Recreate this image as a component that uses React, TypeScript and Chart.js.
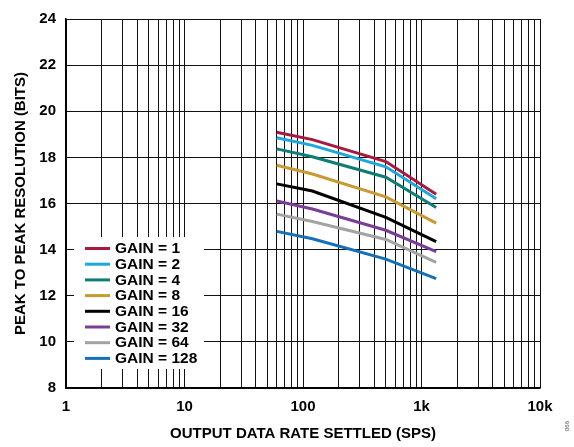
import React, { useEffect, useRef } from 'react';
import { Chart, registerables } from 'chart.js';

Chart.register(...registerables);

// Output data rate (SPS)
const rates = [60, 120, 500, 1330];

const gainLabels = ['GAIN = 1', 'GAIN = 2', 'GAIN = 4', 'GAIN = 8', 'GAIN = 16', 'GAIN = 32', 'GAIN = 64', 'GAIN = 128'];

const gain1 = [19.09, 18.77, 17.82, 16.40];
const gain2 = [18.85, 18.52, 17.59, 16.21];
const gain4 = [18.37, 18.03, 17.14, 15.83];
const gain8 = [17.66, 17.28, 16.29, 15.15];
const gain16 = [16.85, 16.54, 15.40, 14.35];
const gain32 = [16.11, 15.76, 14.84, 13.91];
const gain64 = [15.54, 15.22, 14.44, 13.45];
const gain128 = [14.79, 14.47, 13.59, 12.74];

const seriesValues = [gain1, gain2, gain4, gain8, gain16, gain32, gain64, gain128];
const seriesColors = ['#A8183F', '#1BA8DE', '#0F7D74', '#C89A2F', '#000000', '#7A3E97', '#A3A3A3', '#1470B8'];

const xDecades = [1, 10, 100, 1000];
const xMultiples = [1, 2, 3, 4, 5, 6, 7, 8, 9];
const xMax = 10000;
const xTickLabels: Record<string, string> = { '1': '1', '10': '10', '100': '100', '1000': '1k', '10000': '10k' };

const yMin = 8;
const yMax = 24;
const yStep = 2;

const FONT = '"Liberation Sans", Arial, sans-serif';

const legendPlugin = {
  id: 'boxLegend',
  beforeDatasetsDraw(chart: any) {
    const ctx = chart.ctx;
    ctx.save();
    ctx.fillStyle = '#ffffff';
    ctx.fillRect(74, 237, 130, 132);
    const ds = chart.data.datasets;
    ctx.font = `bold 15.5px ${FONT}`;
    ctx.textBaseline = 'middle';
    ctx.textAlign = 'left';
    for (let i = 0; i < ds.length; i++) {
      const y = 248.5 + i * 15.7;
      ctx.strokeStyle = ds[i].borderColor;
      ctx.lineWidth = 3;
      ctx.beginPath();
      ctx.moveTo(85, y);
      ctx.lineTo(110, y);
      ctx.stroke();
      ctx.fillStyle = '#000';
      ctx.fillText(ds[i].label, 115, y + 0.5);
    }
    ctx.restore();
  },
  afterDraw(chart: any) {
    const ctx = chart.ctx;
    ctx.save();
    ctx.translate(567, 426);
    ctx.rotate(-Math.PI / 2);
    ctx.font = `6px ${FONT}`;
    ctx.fillStyle = '#444';
    ctx.textAlign = 'center';
    ctx.textBaseline = 'middle';
    ctx.fillText('066', 0, 0);
    ctx.restore();
  },
};

export default function App() {
  const ref = useRef<HTMLCanvasElement>(null);

  useEffect(() => {
    if (!ref.current) return;
    const datasets = seriesValues.map((vals, i) => ({
      label: gainLabels[i],
      data: vals.map((v, j) => ({ x: rates[j], y: v })),
      borderColor: seriesColors[i],
      backgroundColor: seriesColors[i],
      borderWidth: 3,
      pointRadius: 0,
      tension: 0,
      fill: false,
    }));

    const chart = new Chart(ref.current, {
      type: 'line',
      data: { datasets },
      plugins: [legendPlugin],
      options: {
        animation: false,
        responsive: false,
        maintainAspectRatio: false,
        layout: { padding: { top: 12, right: 34, left: 0, bottom: 0 } },
        plugins: { legend: { display: false }, tooltip: { enabled: false } },
        scales: {
          x: {
            type: 'logarithmic',
            min: 1,
            max: xMax,
            afterBuildTicks: (scale: any) => {
              const ticks: any[] = [];
              for (const d of xDecades) for (const m of xMultiples) ticks.push({ value: d * m });
              ticks.push({ value: xMax });
              scale.ticks = ticks;
            },
            afterFit: (scale: any) => {
              scale.height = 59;
            },
            ticks: {
              autoSkip: false,
              maxRotation: 0,
              padding: 10,
              color: '#000',
              font: { family: FONT, size: 15, weight: 'bold' },
              callback: (value: any) => xTickLabels[String(value)] ?? '',
            },
            grid: { color: '#111', lineWidth: 1, drawTicks: false },
            border: { color: '#000', width: 1.5 },
            title: {
              display: true,
              text: 'OUTPUT DATA RATE SETTLED (SPS)',
              color: '#000',
              font: { family: FONT, size: 15, weight: 'bold' },
              padding: { top: 0, bottom: 4 },
            },
          },
          y: {
            type: 'linear',
            min: yMin,
            max: yMax,
            afterFit: (scale: any) => {
              scale.width = 66;
            },
            ticks: {
              stepSize: yStep,
              padding: 10,
              color: '#000',
              font: { family: FONT, size: 15, weight: 'bold' },
            },
            grid: { color: '#111', lineWidth: 1, drawTicks: false },
            border: { color: '#000', width: 1.5 },
            title: {
              display: true,
              text: 'PEAK TO PEAK RESOLUTION (BITS)',
              color: '#000',
              font: { family: FONT, size: 15, weight: 'bold' },
              padding: { top: 12, bottom: 0 },
            },
          },
        },
      },
    } as any);
    return () => chart.destroy();
  }, []);

  return (
    <div style={{ position: 'fixed', left: 0, top: 0, width: 574, height: 447, background: '#fff' }}>
      <canvas ref={ref} width={574} height={447} style={{ width: 574, height: 447, display: 'block' }} />
    </div>
  );
}
